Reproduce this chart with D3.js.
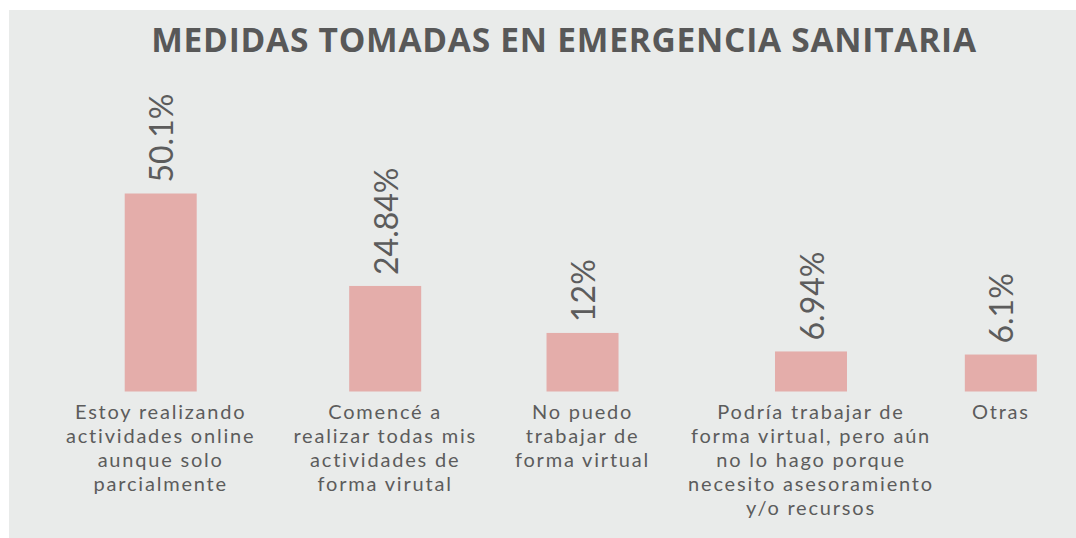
<!DOCTYPE html>
<html>
<head>
<meta charset="utf-8">
<script src="https://cdn.jsdelivr.net/npm/d3@7"></script>
<style>
  body { margin: 0; background: #ffffff; }
  svg { display: block; }
</style>
</head>
<body>
<div id="chart"></div>
<script>
// chart data
var categories = [
  ["Estoy realizando", "actividades online", "aunque solo", "parcialmente"],
  ["Comencé a", "realizar todas mis", "actividades de", "forma virutal"],
  ["No puedo", "trabajar de", "forma virtual"],
  ["Podría trabajar de", "forma virtual, pero aún", "no lo hago porque", "necesito asesoramiento", "y/o recursos"],
  ["Otras"]
];
var values = [50.1, 24.84, 12, 6.94, 6.1];
var valueLabels = ["50.1%", "24.84%", "12%", "6.94%", "6.1%"];
var title = "MEDIDAS TOMADAS EN EMERGENCIA SANITARIA";

var svgWidth = 1076;
var svgHeight = 538;
var barWidth = 72;
var labelGap = 38;   // space between neighbouring category labels
var labelStart = 66;

var svg = d3.select("#chart")
  .append("svg")
  .attr("width", svgWidth)
  .attr("height", svgHeight);

// grey panel
svg.append("rect")
  .attr("x", 9)
  .attr("y", 10)
  .attr("width", svgWidth - 9)
  .attr("height", svgHeight - 10)
  .attr("fill", "#E9EBEA");

svg.append("text")
  .attr("x", 564)
  .attr("y", 52)
  .attr("text-anchor", "middle")
  .style("font-family", "'Open Sans', sans-serif")
  .style("font-weight", "700")
  .style("font-size", "33.5px")
  .style("letter-spacing", "0.75px")
  .style("fill", "#585858")
  .text(title);

var idx = d3.range(values.length);

// category labels first, so the columns can follow their widths
var labels = svg.selectAll("text.cat")
  .data(idx)
  .enter()
  .append("text")
  .attr("class", "cat")
  .attr("text-anchor", "middle")
  .style("font-family", "Lato, sans-serif")
  .style("font-size", "20px")
  .style("letter-spacing", "1.8px")
  .style("fill", "#5c5c5c");

var tspans = labels.selectAll("tspan")
  .data(i => categories[i].map(t => ({ t: t, i: i })))
  .enter()
  .append("tspan")
  .attr("y", (d, j) => 419 + j * 24)
  .text(d => d.t);

var widths = idx.map(i => d3.max(
  tspans.filter(d => d.i === i).nodes(), n => n.getComputedTextLength()));

var centers = [];
var left = labelStart;
idx.forEach(i => {
  centers.push(left + widths[i] / 2);
  left += widths[i] + labelGap;
});

var x = d3.scaleOrdinal()
  .domain(idx)
  .range(centers);

tspans.attr("x", d => x(d.i));

// baseline sits a little below zero, like the original layout
var y = d3.scaleLinear()
  .domain([-4, 50.1])
  .range([391.5, 193.5]);

svg.selectAll("rect.bar")
  .data(idx)
  .enter()
  .append("rect")
  .attr("class", "bar")
  .attr("x", i => x(i) - barWidth / 2)
  .attr("y", i => y(values[i]))
  .attr("width", barWidth)
  .attr("height", i => y(-4) - y(values[i]))
  .attr("fill", "#E4ADAA");

// value labels, rotated
svg.selectAll("text.val")
  .data(idx)
  .enter()
  .append("text")
  .attr("class", "val")
  .attr("transform", i => `translate(${x(i) + 1}, ${y(values[i]) - 11}) rotate(-90)`)
  .attr("dy", "0.36em")
  .style("font-family", "Lato, sans-serif")
  .style("font-weight", "400")
  .style("font-size", "32px")
  .style("fill", "#5c5c5c")
  .text(i => valueLabels[i]);
</script>
</body>
</html>
